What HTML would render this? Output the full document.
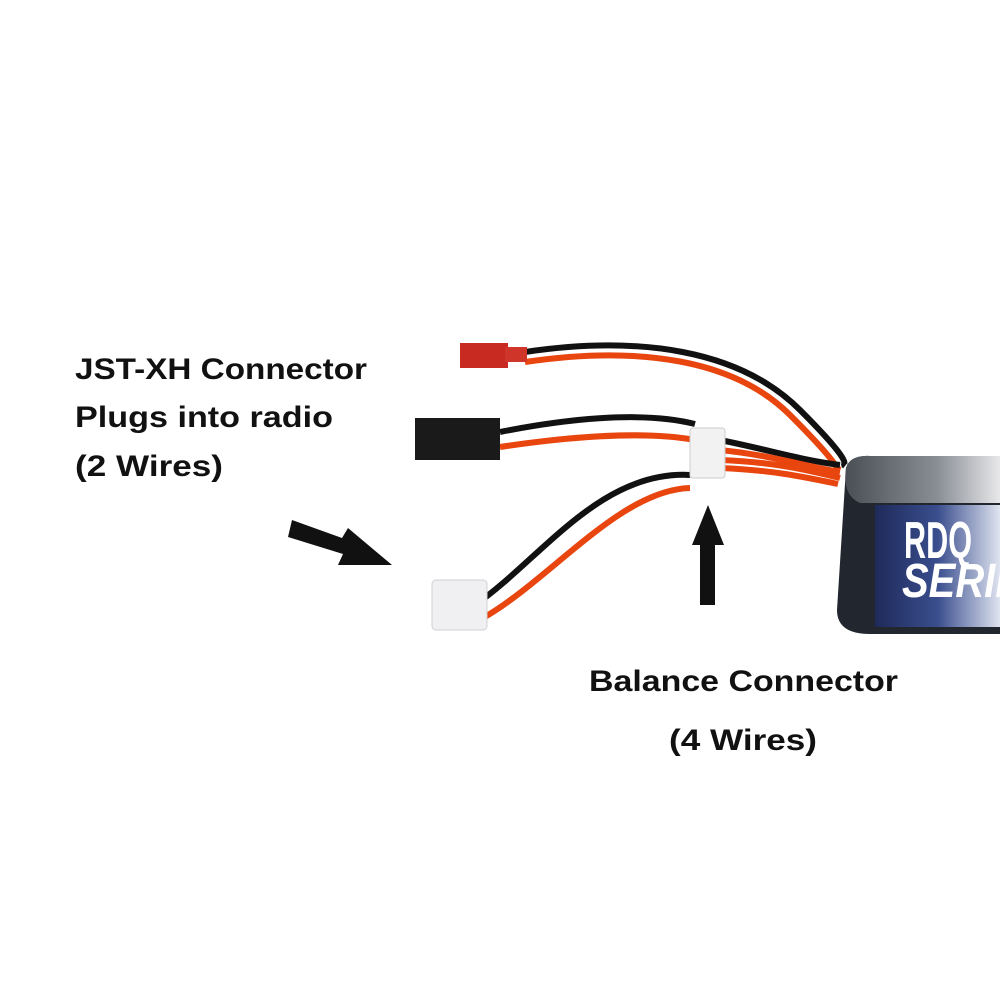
<!DOCTYPE html>
<html><head><style>
html,body{margin:0;padding:0;background:#fff;}
svg{display:block}
</style></head><body>
<svg width="1000" height="1000" viewBox="0 0 1000 1000" xmlns="http://www.w3.org/2000/svg">
<defs>
<linearGradient id="lab" x1="0" x2="1" y1="0" y2="0">
<stop offset="0" stop-color="#1e2a5a"/><stop offset="0.5" stop-color="#3a4e8e"/><stop offset="1" stop-color="#dfe4f0"/>
</linearGradient>
<linearGradient id="foil" x1="0" x2="1"><stop offset="0" stop-color="#4a4f56"/><stop offset="0.6" stop-color="#8a8f96"/><stop offset="1" stop-color="#e8e8ea"/></linearGradient>
</defs>
<!-- battery -->
<path d="M846 468 Q850 455 870 456 L1000 456 L1000 634 L870 634 Q837 634 837 610 Z" fill="#22262e"/>
<path d="M846 468 Q850 455 870 456 L1000 456 L1000 503 L860 503 Q842 495 846 468Z" fill="url(#foil)"/>
<rect x="875" y="505" width="125" height="122" fill="url(#lab)"/>
<text x="904" y="558" font-family="Liberation Sans,sans-serif" font-weight="bold" font-size="52" fill="#fff" textLength="68" lengthAdjust="spacingAndGlyphs">RDQ</text>
<text x="902" y="597" font-family="Liberation Sans,sans-serif" font-weight="bold" font-size="48" fill="#fff" textLength="120" lengthAdjust="spacingAndGlyphs" font-style="italic">SERIE</text>
<!-- wires from red JST -->
<path d="M525 352 C640 335 740 350 800 410 S840 462 845 466" stroke="#111" stroke-width="6" fill="none"/>
<path d="M525 362 C640 345 735 360 790 415 S832 465 840 470" stroke="#e8450f" stroke-width="6" fill="none"/>
<rect x="460" y="343" width="48" height="25" fill="#c82a22"/>
<rect x="505" y="347" width="22" height="15" fill="#d0352a"/>
<!-- servo wires -->
<path d="M500 432 C560 420 640 410 695 424" stroke="#111" stroke-width="6" fill="none"/>
<path d="M500 447 C560 438 640 430 695 440" stroke="#e8450f" stroke-width="6" fill="none"/>
<rect x="415" y="418" width="85" height="42" fill="#1a1a1a"/>
<!-- bundled balance wires -->
<path d="M720 440 C770 450 800 460 840 465" stroke="#111" stroke-width="6" fill="none"/>
<path d="M720 450 C770 455 800 465 840 472" stroke="#e8450f" stroke-width="6" fill="none"/>
<path d="M720 460 C770 462 800 468 840 478" stroke="#e8450f" stroke-width="6" fill="none"/>
<path d="M720 468 C770 470 800 476 838 484" stroke="#e8450f" stroke-width="6" fill="none"/>
<!-- bottom JST-XH wires -->
<path d="M475 605 C540 560 600 470 690 475" stroke="#111" stroke-width="6" fill="none"/>
<path d="M483 618 C550 580 620 490 690 488" stroke="#e8450f" stroke-width="6" fill="none"/>
<!-- balance connector -->
<rect x="690" y="428" width="35" height="50" rx="3" fill="#f2f2f2" stroke="#ccc"/>
<!-- JST-XH connector -->
<rect x="432" y="580" width="55" height="50" rx="4" fill="#f0f0f2" stroke="#d0d0d4"/>
<!-- arrows -->
<polygon points="292,520 342,538 348,528 392,565 338,565 343,554 288,537" fill="#111"/>
<polygon points="700,605 715,605 715,545 724,545 708,505 692,545 700,545" fill="#111"/>
<!-- text -->
<g font-family="Liberation Sans,sans-serif" font-weight="bold" font-size="30" fill="#111">
<text x="75" y="379" textLength="292" lengthAdjust="spacingAndGlyphs">JST-XH Connector</text>
<text x="75" y="427" textLength="258" lengthAdjust="spacingAndGlyphs">Plugs into radio</text>
<text x="75" y="476" textLength="148" lengthAdjust="spacingAndGlyphs">(2 Wires)</text>
<text x="589" y="691" textLength="309" lengthAdjust="spacingAndGlyphs">Balance Connector</text>
<text x="669" y="750" textLength="148" lengthAdjust="spacingAndGlyphs">(4 Wires)</text>
</g>
</svg>
</body></html>
